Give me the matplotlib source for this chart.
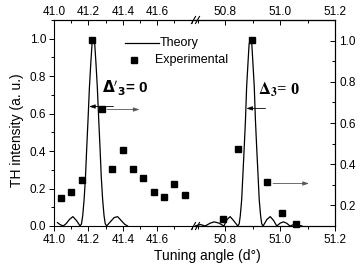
import matplotlib
matplotlib.use("Agg")
import matplotlib.pyplot as plt
from matplotlib.lines import Line2D
from matplotlib.ticker import MultipleLocator

plt.rcParams["font.family"] = ["Liberation Sans", "DejaVu Sans"]

# experimental points, left segment (near 41.2 deg)
exp_left_x = [41.04, 41.10, 41.16, 41.22, 41.28, 41.34, 41.40, 41.46, 41.52, 41.58, 41.64, 41.70, 41.76]
exp_left_y = [0.147, 0.181, 0.243, 0.993, 0.626, 0.302, 0.404, 0.302, 0.254, 0.182, 0.156, 0.223, 0.165]

# experimental points, right segment (near 50.9 deg)
exp_right_x = [50.792, 50.845, 50.897, 50.952, 51.006, 51.058]
exp_right_y = [0.036, 0.413, 0.993, 0.236, 0.071, 0.009]

# theory curve, left peak
theo_left_x = [41.02, 41.035, 41.053, 41.07, 41.09, 41.11, 41.13, 41.152, 41.160, 41.167,
               41.175, 41.183, 41.190, 41.198, 41.206, 41.214, 41.221, 41.229, 41.237,
               41.244, 41.252, 41.260, 41.268, 41.275, 41.283, 41.291, 41.298, 41.306,
               41.33, 41.35, 41.37, 41.39, 41.41, 41.428]
theo_left_y = [0.018, 0.008, 0.0, 0.012, 0.035, 0.05, 0.03, 0.0, 0.012, 0.055,
               0.14, 0.26, 0.41, 0.57, 0.74, 0.87, 0.97, 1.0, 0.97,
               0.87, 0.74, 0.57, 0.41, 0.26, 0.14, 0.055, 0.012, 0.0,
               0.025, 0.045, 0.05, 0.03, 0.01, 0.0]

# theory curve, right peak
theo_right_x = [50.69, 50.71, 50.727, 50.745, 50.76, 50.778, 50.795, 50.807, 50.818, 50.83,
                50.846, 50.851, 50.855, 50.860, 50.864, 50.869, 50.874, 50.878, 50.883,
                50.887, 50.892, 50.897, 50.901, 50.906, 50.910, 50.915, 50.920, 50.924,
                50.929, 50.933, 50.938, 50.952, 50.964, 50.976, 50.988, 51.0, 51.012,
                51.024, 51.036, 51.05, 51.065, 51.08]
theo_right_y = [0.0, 0.008, 0.0, 0.015, 0.022, 0.015, 0.0, 0.035, 0.05, 0.03,
                0.0, 0.012, 0.055, 0.14, 0.26, 0.41, 0.57, 0.74, 0.87,
                0.97, 1.0, 0.97, 0.87, 0.74, 0.57, 0.41, 0.26, 0.14,
                0.055, 0.012, 0.0, 0.035, 0.05, 0.03, 0.0, 0.015, 0.022,
                0.015, 0.0, 0.008, 0.004, 0.0]

left_xticks = [41.0, 41.2, 41.4, 41.6]
right_xticks = [50.8, 51.0, 51.2]

W, H = 360, 270
fig = plt.figure(figsize=(3.6, 2.7), dpi=100)


def px(x0, y0, x1, y1):
    # pixel box -> figure rect
    return [x0 / W, 1 - y1 / H, (x1 - x0) / W, (y1 - y0) / H]


ax1 = fig.add_axes(px(54, 20, 195, 226))
ax2 = fig.add_axes(px(195, 20, 335, 226))
ax2r = ax2.twinx()

ax1.plot(theo_left_x, theo_left_y, color="black", lw=0.9)
ax1.plot(exp_left_x, exp_left_y, "ks", ms=4.3, clip_on=False)
ax2.plot(theo_right_x, theo_right_y, color="black", lw=0.9)
ax2.plot(exp_right_x, exp_right_y, "ks", ms=4.3, clip_on=False)

ax1.set_xlim(41.0, 41.82)
ax2.set_xlim(50.69, 51.2)
ax1.set_ylim(0, 1.1)
ax2.set_ylim(0, 1.1)
ax2r.set_ylim(0.1, 1.1)

ax1.spines["right"].set_visible(False)
ax2.spines["left"].set_visible(False)
ax2r.spines["left"].set_visible(False)

for a, ticks in ((ax1, left_xticks), (ax2, right_xticks)):
    a.set_xticks(ticks)
    a.xaxis.set_minor_locator(MultipleLocator(0.1))
    a.tick_params(axis="x", which="both", direction="out", top=False,
                  labelsize=8.5, width=0.7, pad=2.5)
    a.tick_params(axis="x", which="major", length=3.5)
    a.tick_params(axis="x", which="minor", length=2)
    top = a.secondary_xaxis("top")
    top.set_xticks(ticks)
    top.xaxis.set_minor_locator(MultipleLocator(0.1))
    top.spines["top"].set_linewidth(0.8)
    top.tick_params(axis="x", which="both", direction="in", labelsize=8.5, width=0.7, pad=1.5)
    top.tick_params(axis="x", which="major", length=3.5)
    top.tick_params(axis="x", which="minor", length=2)

ax1.set_yticks([0.0, 0.2, 0.4, 0.6, 0.8, 1.0])
ax1.yaxis.set_minor_locator(MultipleLocator(0.1))
ax2r.set_yticks([0.2, 0.4, 0.6, 0.8, 1.0])
ax2r.yaxis.set_minor_locator(MultipleLocator(0.1))

for a in (ax1, ax2, ax2r):
    for s in a.spines.values():
        s.set_linewidth(0.8)

ax1.tick_params(axis="y", which="both", direction="out", labelsize=8.5, width=0.7, pad=2)
ax1.tick_params(axis="y", which="major", length=3.5)
ax1.tick_params(axis="y", which="minor", length=2)
ax2.tick_params(axis="y", which="both", left=False, right=False, labelleft=False)
ax2r.tick_params(axis="y", which="both", direction="in", labelsize=8.5, width=0.7, pad=3)
ax2r.tick_params(axis="y", which="major", length=3.5)
ax2r.tick_params(axis="y", which="minor", length=2)

fig.text(17 / W, 1 - 130 / H, "TH intensity (a. u.)", rotation=90, va="center", ha="center",
         fontsize=10)
fig.text(207 / W, 1 - 256 / H, "Tuning angle (d\u00b0)", ha="center", va="center", fontsize=10)

# delta labels
ax1.text(41.28, 0.71, r"$\mathbf{\Delta'_3}$= 0", fontsize=11, fontweight="bold",
         math_fontfamily="dejavusans")
ax2.text(50.92, 0.70, r"$\mathbf{\Delta_3}$= 0", fontsize=12, fontweight="bold",
         family="Liberation Serif", math_fontfamily="stix")

# arrows pointing to the axes
akw = dict(arrowstyle="-|>,head_length=0.35,head_width=0.12", lw=0.6)
ax1.annotate("", xy=(41.188, 0.638), xytext=(41.362, 0.638),
             arrowprops=dict(color="black", **akw))
ax1.annotate("", xy=(41.513, 0.622), xytext=(41.293, 0.622),
             arrowprops=dict(color="#555555", **akw))
ax2.annotate("", xy=(50.867, 0.628), xytext=(50.957, 0.628),
             arrowprops=dict(color="black", **akw))
ax2.annotate("", xy=(51.115, 0.227), xytext=(50.964, 0.227),
             arrowprops=dict(color="#555555", **akw), annotation_clip=False)

# legend drawn by hand
fig.add_artist(Line2D([125 / W, 159 / W], [1 - 43 / H] * 2, color="black", lw=0.9))
fig.text(160 / W, 1 - 43 / H, "Theory", va="center", fontsize=9)
fig.add_artist(Line2D([134 / W], [1 - 60 / H], marker="s", color="black", ms=4.3))
fig.text(155 / W, 1 - 60 / H, "Experimental", va="center", fontsize=9)

# break marks on the top and bottom spines
for yb in (20, 226):
    for xb in (193.5, 197.5):
        fig.add_artist(Line2D([(xb - 2) / W, (xb + 2) / W],
                              [1 - (yb + 3.5) / H, 1 - (yb - 3.5) / H],
                              color="black", lw=0.8))

fig.savefig("out.png", dpi=100)
